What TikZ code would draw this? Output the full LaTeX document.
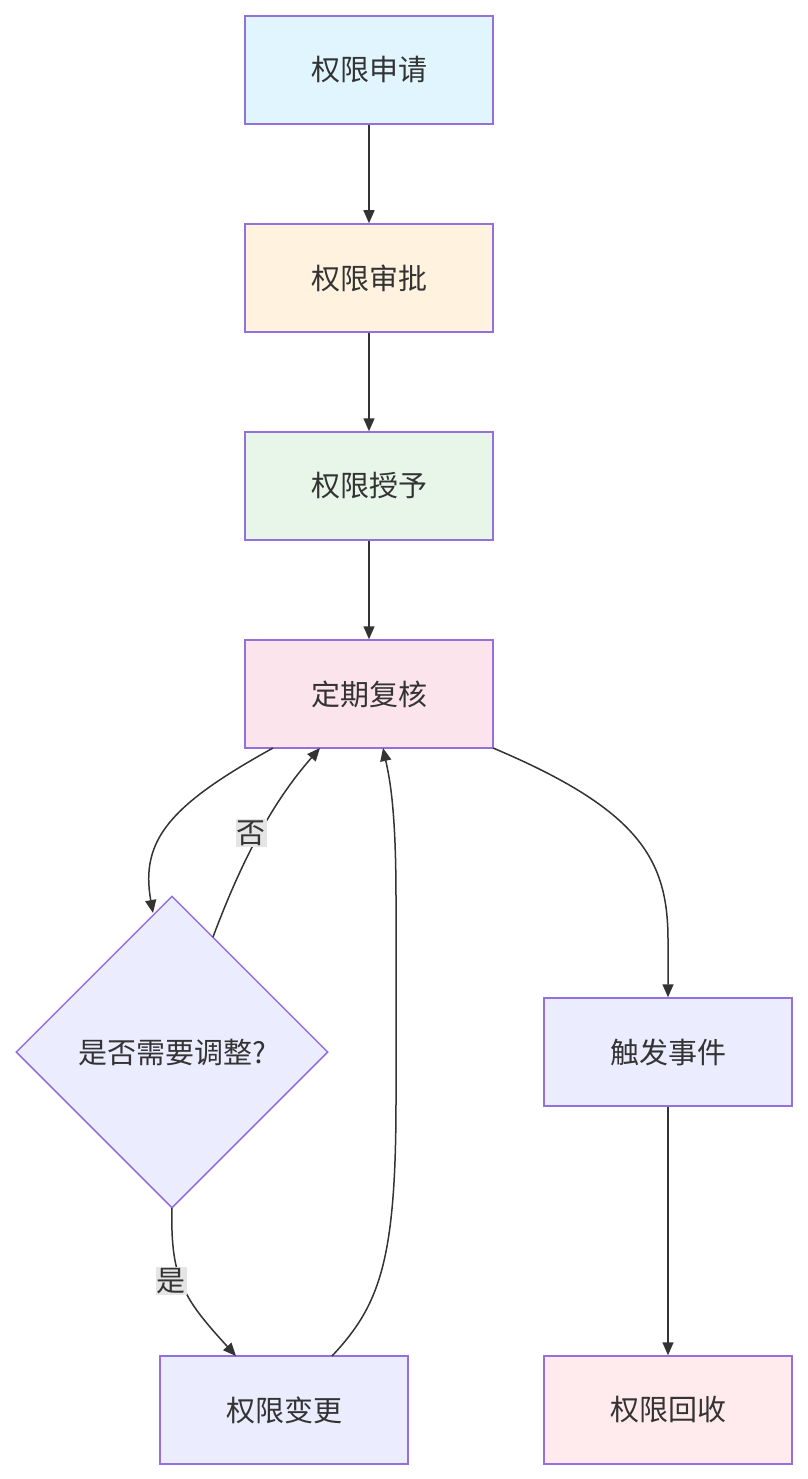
\documentclass[tikz,border=0pt]{standalone}
\usepackage{fontspec}
\setmainfont{Noto Sans CJK SC}
\usetikzlibrary{shapes.geometric,arrows.meta}
\definecolor{bord}{HTML}{9370DB}
\definecolor{ln}{HTML}{333333}
\begin{document}
\begin{tikzpicture}[x=1pt,y=-1pt,
  box/.style={draw=bord,line width=1.5pt,minimum width=248pt,minimum height=108pt,font=\fontsize{29}{34}\selectfont,text=ln},
  dia/.style={draw=bord,line width=1.5pt,diamond,minimum width=312pt,minimum height=312pt,inner sep=0,fill=lavender,font=\fontsize{29}{34}\selectfont,text=ln},
  arr/.style={draw=ln,line width=1.5pt,-{Triangle[length=13pt,width=11pt]}},
  lab/.style={fill=gray!20,font=\fontsize{29}{34}\selectfont,text=ln,inner sep=1pt}]
\definecolor{lavender}{HTML}{ECECFF}
\useasboundingbox (0,0) rectangle (807,1479);
\node[box,fill={rgb,255:red,225;green,245;blue,254}] (a) at (369,70) {权限申请};
\node[box,fill={rgb,255:red,255;green,243;blue,224}] (b) at (369,278) {权限审批};
\node[box,fill={rgb,255:red,232;green,245;blue,233}] (c) at (369,486) {权限授予};
\node[box,fill={rgb,255:red,252;green,228;blue,236}] (d) at (369,694) {定期复核};
\node[dia] (e) at (172,1052) {是否需要调整?};
\node[box,fill=lavender] (f) at (668,1052) {触发事件};
\node[box,fill=lavender] (g) at (284,1410) {权限变更};
\node[box,fill={rgb,255:red,255;green,235;blue,238}] (h) at (668,1410) {权限回收};
\coordinate (d1) at (273,748);
\coordinate (d2) at (320,748);
\coordinate (d3) at (383,748);
\coordinate (d4) at (493,748);
\coordinate (e1) at (153,913);
\coordinate (e2) at (213,937);
\coordinate (e3) at (172,1208);
\coordinate (g1) at (236,1356);
\coordinate (g2) at (332,1356);
\draw[arr] (a) -- (b);
\draw[arr] (b) -- (c);
\draw[arr] (c) -- (d);
\draw[arr] (d1) .. controls (170,805) and (140,840) .. (e1);
\draw[arr] (e2) .. controls (240,865) and (270,805) .. (d2);
\node[lab] at (251,833) {否};
\draw[arr] (e3) .. controls (170,1280) and (185,1300) .. (g1);
\node[lab] at (171,1281) {是};
\draw[arr] (g2) .. controls (380,1305) and (396,1260) .. (396,1100) -- (396,900) .. controls (396,810) and (390,780) .. (d3);
\draw[arr] (d4) .. controls (640,810) and (668,860) .. (668,940) -- (f.north);
\draw[arr] (f) -- (h);
\end{tikzpicture}
\end{document}
